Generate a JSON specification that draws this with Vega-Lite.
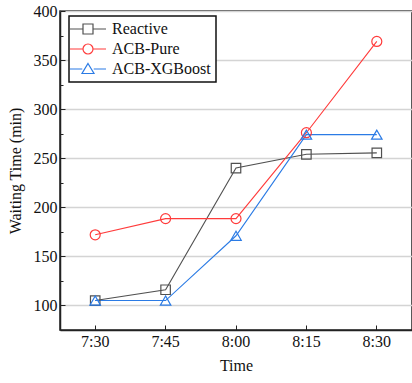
{
  "$schema": "https://vega.github.io/schema/vega-lite/v6.json",
  "width": 352,
  "height": 319,
  "autosize": {"type": "none"},
  "padding": {"left": 60, "top": 11, "right": 0, "bottom": 53},
  "background": "white",
  "config": {
    "font": "Liberation Serif",
    "view": {"stroke": "#222", "strokeWidth": 1.5},
    "axis": {
      "labelFont": "Liberation Serif",
      "titleFont": "Liberation Serif",
      "labelFontSize": 16,
      "titleFontSize": 16,
      "titleFontWeight": "normal",
      "labelColor": "#111",
      "titleColor": "#111",
      "domainColor": "#222",
      "domainWidth": 1.5,
      "tickColor": "#222",
      "tickWidth": 1
    },
    "legend": {
      "labelFont": "Liberation Serif",
      "labelFontSize": 16
    }
  },
  "data": {
    "values": [
      {"time": "7:30", "series": "Reactive", "value": 105},
      {"time": "7:45", "series": "Reactive", "value": 116},
      {"time": "8:00", "series": "Reactive", "value": 240},
      {"time": "8:15", "series": "Reactive", "value": 254},
      {"time": "8:30", "series": "Reactive", "value": 255.5},
      {"time": "7:30", "series": "ACB-Pure", "value": 172},
      {"time": "7:45", "series": "ACB-Pure", "value": 188.5},
      {"time": "8:00", "series": "ACB-Pure", "value": 188.5},
      {"time": "8:15", "series": "ACB-Pure", "value": 276},
      {"time": "8:30", "series": "ACB-Pure", "value": 369},
      {"time": "7:30", "series": "ACB-XGBoost", "value": 105},
      {"time": "7:45", "series": "ACB-XGBoost", "value": 105},
      {"time": "8:00", "series": "ACB-XGBoost", "value": 171},
      {"time": "8:15", "series": "ACB-XGBoost", "value": 274},
      {"time": "8:30", "series": "ACB-XGBoost", "value": 274}
    ]
  },
  "encoding": {
    "x": {
      "field": "time",
      "type": "ordinal",
      "sort": ["7:30", "7:45", "8:00", "8:15", "8:30"],
      "bandPosition": 0.5,
      "scale": {"type": "band", "paddingInner": 0, "paddingOuter": 0},
      "axis": {
        "title": "Time",
        "orient": "bottom",
        "labelFont": "Liberation Serif",
        "titleFont": "Liberation Serif",
        "labelAngle": 0,
        "grid": false,
        "tickSize": -5,
        "labelPadding": 8,
        "titlePadding": 8
      }
    },
    "y": {
      "field": "value",
      "type": "quantitative",
      "scale": {"domain": [75, 400], "nice": false, "zero": false},
      "axis": {
        "title": "Waiting Time (min)",
        "orient": "left",
        "labelFont": "Liberation Serif",
        "titleFont": "Liberation Serif",
        "values": [100, 125, 150, 175, 200, 225, 250, 275, 300, 325, 350, 375, 400],
        "labelExpr": "datum.value % 50 === 0 ? datum.label : ''",
        "grid": true,
        "gridColor": "#d4d4d4",
        "gridWidth": 1.5,
        "gridOpacity": {"expr": "datum.value % 50 === 0 ? 1 : 0"},
        "tickSize": {"expr": "datum.value % 50 === 0 ? -5 : -3"},
        "labelPadding": 8,
        "titlePadding": 10
      }
    },
    "color": {
      "field": "series",
      "type": "nominal",
      "scale": {
        "domain": ["Reactive", "ACB-Pure", "ACB-XGBoost"],
        "range": ["#505050", "#ff3b3b", "#2b7be5"]
      },
      "legend": {
        "title": null,
        "orient": "none",
        "legendX": 9,
        "legendY": 5,
        "labelFont": "Liberation Serif",
        "labelFontSize": 16,
        "labelColor": "#111",
        "strokeColor": "#111",
        "fillColor": "white",
        "padding": 5,
        "rowPadding": 4,
        "symbolSize": 100,
        "symbolOffset": 6,
        "labelOffset": 16,
        "symbolStrokeWidth": 1.2,
        "symbolFillColor": "transparent",
        "encode": {
          "legend": {
            "update": {"strokeWidth": {"value": 1.5}}
          },
          "symbols": {
            "enter": {
              "shape": {"signal": "datum.value === 'Reactive' ? 'M-3.6,0H-1M1,0H3.6M-1,-1H1V1H-1Z' : datum.value === 'ACB-Pure' ? 'M-3.6,0H-1M1,0H3.6M1,0A1,1,0,1,1,-1,0A1,1,0,1,1,1,0Z' : 'M-3.6,0H-1.15M1.15,0H3.6M0,-1.1L1.2,0.9H-1.2Z'"}
            },
            "update": {
              "shape": {"signal": "datum.value === 'Reactive' ? 'M-3.6,0H-1M1,0H3.6M-1,-1H1V1H-1Z' : datum.value === 'ACB-Pure' ? 'M-3.6,0H-1M1,0H3.6M1,0A1,1,0,1,1,-1,0A1,1,0,1,1,1,0Z' : 'M-3.6,0H-1.15M1.15,0H3.6M0,-1.1L1.2,0.9H-1.2Z'"}
            }
          }
        }
      }
    }
  },
  "layer": [
    {
      "mark": {"type": "line", "strokeWidth": 1.1}
    },
    {
      "transform": [{"filter": "datum.series === 'Reactive'"}],
      "mark": {"type": "point", "shape": "square", "filled": false, "size": 90, "strokeWidth": 1.2, "opacity": 1}
    },
    {
      "transform": [{"filter": "datum.series === 'ACB-Pure'"}],
      "mark": {"type": "point", "shape": "circle", "filled": false, "size": 100, "strokeWidth": 1.2, "opacity": 1}
    },
    {
      "transform": [{"filter": "datum.series === 'ACB-XGBoost'"}],
      "mark": {"type": "point", "shape": "triangle-up", "filled": false, "size": 110, "strokeWidth": 1.2, "opacity": 1}
    }
  ]
}
